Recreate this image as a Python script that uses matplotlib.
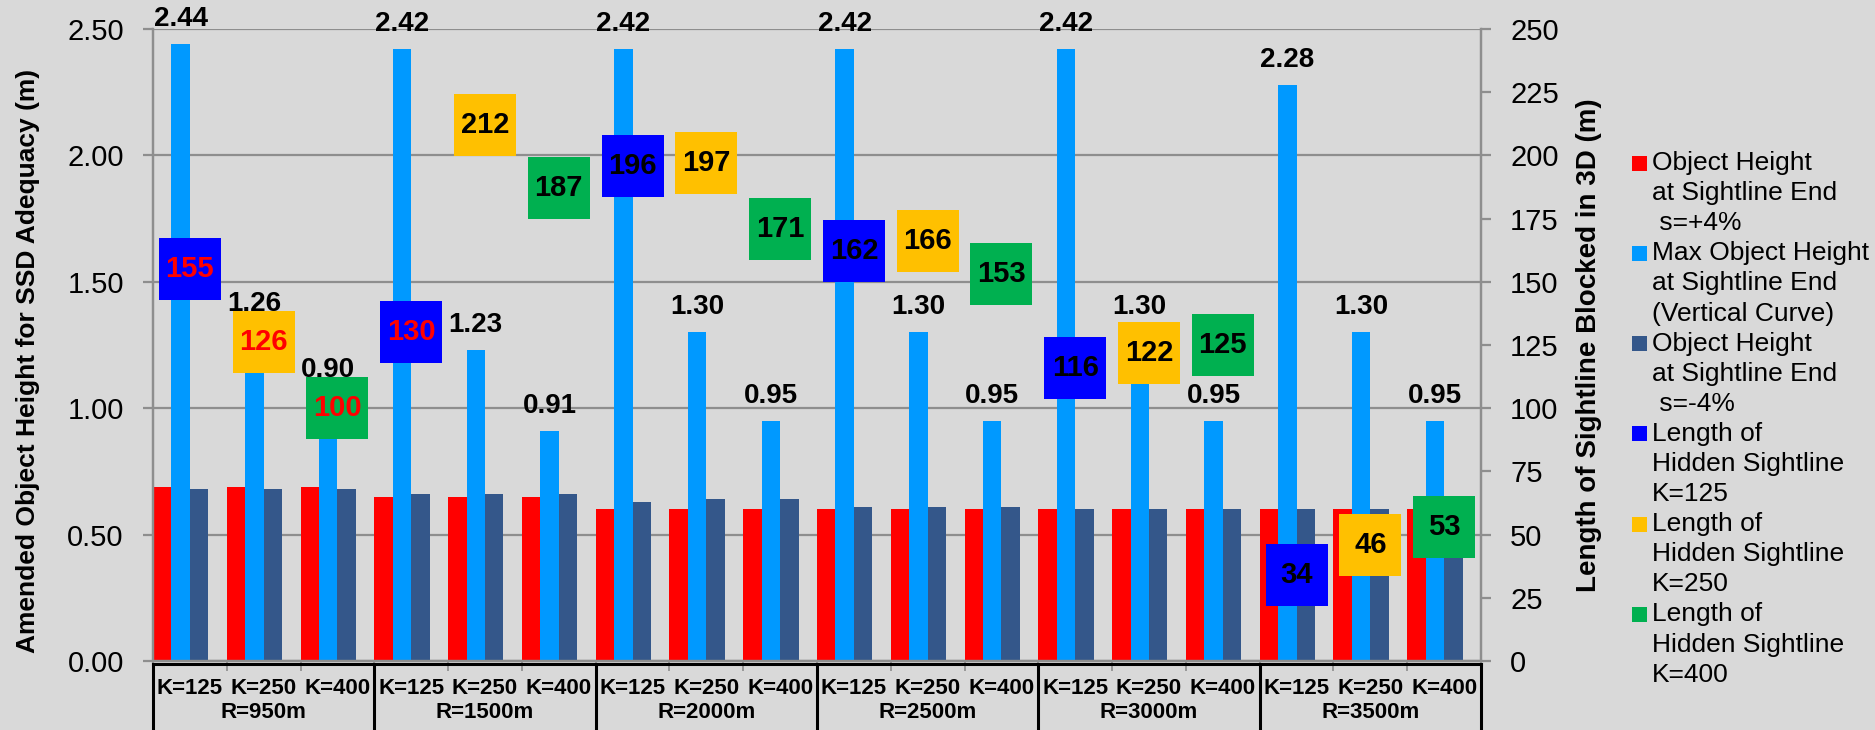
import matplotlib
matplotlib.use("Agg")
import matplotlib.pyplot as plt
from matplotlib.lines import Line2D
from matplotlib.patches import Rectangle
import numpy as np

plt.rcParams['font.family'] = ['Liberation Sans', 'DejaVu Sans']

radii = ["R=950m", "R=1500m", "R=2000m", "R=2500m", "R=3000m", "R=3500m"]
k_labels = ["K=125", "K=250", "K=400"]

# object heights (m), one value per K within each radius
height_up = [0.69, 0.69, 0.69, 0.65, 0.65, 0.65, 0.60, 0.60, 0.60,
             0.60, 0.60, 0.60, 0.60, 0.60, 0.60, 0.60, 0.60, 0.60]
height_max = [2.44, 1.26, 0.90, 2.42, 1.23, 0.91, 2.42, 1.30, 0.95,
              2.42, 1.30, 0.95, 2.42, 1.30, 0.95, 2.28, 1.30, 0.95]
height_down = [0.68, 0.68, 0.68, 0.66, 0.66, 0.66, 0.63, 0.64, 0.64,
               0.61, 0.61, 0.61, 0.60, 0.60, 0.60, 0.60, 0.60, 0.60]

# hidden sightline length (m) per radius
hidden_k125 = [155, 130, 196, 162, 116, 34]
hidden_k250 = [126, 212, 197, 166, 122, 46]
hidden_k400 = [100, 187, 171, 153, 125, 53]
text_k125 = ["red", "red", "black", "black", "black", "black"]
text_k250 = ["red", "black", "black", "black", "black", "black"]
text_k400 = ["red", "black", "black", "black", "black", "black"]

legend_labels = [
    ["Object Height", "at Sightline End", " s=+4%"],
    ["Max Object Height", "at Sightline End", "(Vertical Curve)"],
    ["Object Height", "at Sightline End", " s=-4%"],
    ["Length of", "Hidden Sightline", "K=125"],
    ["Length of", "Hidden Sightline", "K=250"],
    ["Length of", "Hidden Sightline", "K=400"],
]

BG = '#D9D9D9'
GRID = '#8E8E8E'
RED = '#FF0000'
LIGHT = '#0099FF'
DARK = '#34578A'
BOX_COLORS = ['#0000FF', '#FFC000', '#00B050']

W, H, DPI = 1875, 730, 100
fig = plt.figure(figsize=(W / DPI, H / DPI), dpi=DPI)
fig.patch.set_facecolor(BG)
ax = fig.add_axes([153 / W, (H - 661) / H, (1481 - 153) / W, (661 - 29) / H])
ax.set_facecolor(BG)

n = len(height_max)
x = np.arange(n)
ax.bar(x + 0.125, height_up, 0.25, color=RED, zorder=2)
ax.bar(x + 0.375, height_max, 0.25, color=LIGHT, zorder=2)
ax.bar(x + 0.625, height_down, 0.25, color=DARK, zorder=2)

ax.set_xlim(0, n)
ax.set_ylim(0, 2.5)
ax.set_yticks(np.arange(0, 2.51, 0.5))
ax.set_yticklabels([f"{v:.2f}" for v in np.arange(0, 2.51, 0.5)])
ax.grid(axis='y', color=GRID, lw=1.6, zorder=0)
ax.set_axisbelow(True)
ax.set_xticks(np.arange(0, n + 1))
ax.set_xticklabels([])
ax.tick_params(axis='x', length=7, color=GRID, width=1.2)
ax.tick_params(axis='y', length=7, color=GRID, width=1.6, labelsize=21, pad=14)
for side in ['left', 'right', 'bottom']:
    ax.spines[side].set_color(GRID)
    ax.spines[side].set_linewidth(1.6)
ax.spines['top'].set_visible(False)

ax2 = ax.twinx()
ax2.set_ylim(0, 250)
ax2.set_yticks(np.arange(0, 251, 25))
ax2.tick_params(axis='y', length=7, color=GRID, width=1.6, labelsize=21, pad=14)
for side in ['left', 'right', 'bottom']:
    ax2.spines[side].set_color(GRID)
    ax2.spines[side].set_linewidth(1.6)
ax2.spines['top'].set_visible(False)

# hidden sightline squares with the length printed inside
box_pt = 44.6
box_half_px = box_pt * DPI / 72 / 2
box_y = {}
for k, (vals, cols) in enumerate(zip([hidden_k125, hidden_k250, hidden_k400],
                                      [text_k125, text_k250, text_k400])):
    xs = np.arange(len(vals)) * 3 + k + 0.5
    ax2.plot(xs, vals, ls='none', marker='s', ms=box_pt, mew=0,
             color=BOX_COLORS[k], zorder=3, clip_on=False)
    for xi, v, c in zip(xs, vals, cols):
        ax2.text(xi, v, str(v), ha='center', va='center', fontsize=21,
                 fontweight='bold', color=c, zorder=4)
        box_y[int(xi)] = ax2.transData.transform((xi, v))[1]

# value labels over the max-height bars, lifted above a square if it covers the bar top
for i, v in enumerate(height_max):
    bar_top = ax.transData.transform((i + 0.375, v))[1]
    base = bar_top + 18
    by = box_y[i]
    if by - box_half_px <= bar_top <= by + box_half_px:
        base = max(base, by + box_half_px)
    ax2.annotate(f"{v:.2f}", xy=(i + 0.375, v), xycoords=ax.transData,
                 xytext=(0, (base - bar_top) * 72 / DPI), textcoords='offset points',
                 ha='center', va='baseline', fontsize=20, fontweight='bold',
                 zorder=5, annotation_clip=False)

# two-level category labels in a boxed table under the axis
tr = ax.get_xaxis_transform()
for i in range(n):
    ax.text(i + 0.5, -0.0443, k_labels[i % 3], transform=tr, ha='center', va='center',
            fontsize=16, fontweight='bold')
for g, r in enumerate(radii):
    ax.text(g * 3 + 1.5, -0.0807, r, transform=tr, ha='center', va='center',
            fontsize=16, fontweight='bold')
ax.add_line(Line2D([0, n], [-0.005, -0.005], transform=tr, color='black', lw=2.2,
                   clip_on=False, zorder=6))
for g in range(len(radii) + 1):
    ax.add_line(Line2D([g * 3, g * 3], [-0.005, -0.2], transform=tr, color='black',
                       lw=2.2, clip_on=False, zorder=6))

fig.text(28 / W, 1 - 361 / H, "Amended Object Height for SSD Adequacy (m)",
         rotation=90, ha='center', va='center', fontsize=19, fontweight='bold')
fig.text(1589 / W, 1 - 345 / H, "Length of Sightline Blocked in 3D (m)",
         rotation=90, ha='center', va='center', fontsize=20, fontweight='bold')

# legend drawn by hand so each square sits on the first line of its entry
legend_colors = [RED, LIGHT, DARK] + BOX_COLORS
for e, (lines, c) in enumerate(zip(legend_labels, legend_colors)):
    y0 = 163 + e * 90.3
    fig.add_artist(Rectangle((1632 / W, 1 - (y0 + 7.5) / H), 15 / W, 15 / H,
                             transform=fig.transFigure, color=c, lw=0))
    for j, line in enumerate(lines):
        fig.text(1652 / W, 1 - (y0 + j * 30.1) / H, line, ha='left', va='center',
                 fontsize=19)

fig.savefig("out.png", dpi=DPI, facecolor=BG)
